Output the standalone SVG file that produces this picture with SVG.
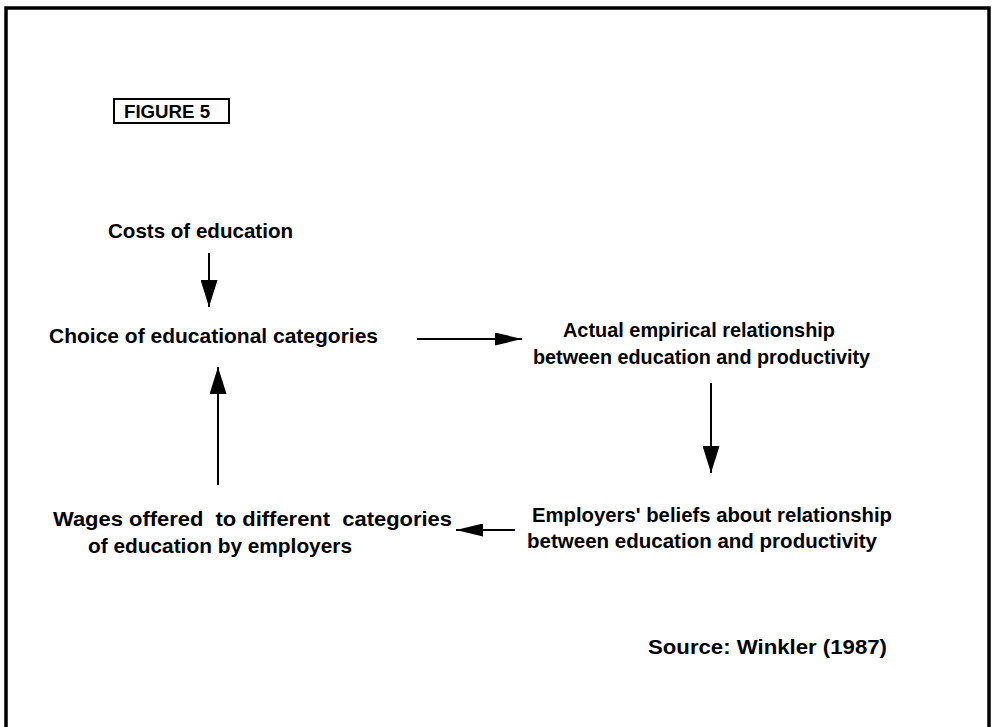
<svg xmlns="http://www.w3.org/2000/svg" width="993" height="727" viewBox="0 0 993 727">
<style>
text{font-family:"Liberation Sans",Arial,sans-serif;font-weight:bold;fill:#000;white-space:pre}
.t{font-size:20.5px}
.line{stroke:#000;stroke-width:2;fill:none}
</style>
<defs>
<marker id="ah" viewBox="0 0 27 17" refX="27" refY="8.5" markerWidth="27" markerHeight="17" markerUnits="userSpaceOnUse" orient="auto"><path d="M0,0 L27,8.5 L0,17 Z" fill="#000"/></marker>
<marker id="ahs" viewBox="0 0 27 13" refX="27" refY="6.5" markerWidth="27" markerHeight="13" markerUnits="userSpaceOnUse" orient="auto"><path d="M0,0 L27,6.5 L0,13 Z" fill="#000"/></marker>
</defs>
<rect width="993" height="727" fill="#fff"/>
<rect x="6" y="8" width="983" height="740" fill="none" stroke="#000" stroke-width="3.5"/>
<g id="figure-label">
<rect x="114" y="99" width="115" height="24" fill="none" stroke="#000" stroke-width="2"/>
<text x="124" y="118" font-size="18" textLength="86" lengthAdjust="spacingAndGlyphs">FIGURE 5</text>
</g>
<g id="costs">
<text class="t" x="108" y="238" textLength="185" lengthAdjust="spacingAndGlyphs">Costs of education</text>
</g>
<g id="choice">
<text class="t" x="49" y="343" textLength="329" lengthAdjust="spacingAndGlyphs">Choice of educational categories</text>
</g>
<g id="actual">
<text class="t" x="563" y="337" textLength="272" lengthAdjust="spacingAndGlyphs">Actual empirical relationship</text>
<text class="t" x="533" y="364" textLength="337" lengthAdjust="spacingAndGlyphs">between education and productivity</text>
</g>
<g id="beliefs">
<text class="t" x="532" y="522" textLength="360" lengthAdjust="spacingAndGlyphs">Employers' beliefs about relationship</text>
<text class="t" x="527" y="548" textLength="350" lengthAdjust="spacingAndGlyphs">between education and productivity</text>
</g>
<g id="wages">
<text class="t" x="53" y="526" textLength="399" lengthAdjust="spacingAndGlyphs">Wages offered  to different  categories</text>
<text class="t" x="88" y="553" textLength="264" lengthAdjust="spacingAndGlyphs">of education by employers</text>
</g>
<g id="source">
<text x="648" y="654" font-size="21" textLength="239" lengthAdjust="spacingAndGlyphs">Source: Winkler (1987)</text>
</g>
<g id="connectors">
<line class="line" x1="209" y1="253" x2="209" y2="307" marker-end="url(#ah)"/>
<line class="line" x1="417" y1="339" x2="522" y2="339" marker-end="url(#ahs)"/>
<line class="line" x1="711" y1="383" x2="711" y2="473" marker-end="url(#ah)"/>
<line class="line" x1="515" y1="530" x2="456" y2="530" marker-end="url(#ahs)"/>
<line class="line" x1="218" y1="485" x2="218" y2="367" marker-end="url(#ah)"/>
</g>
</svg>
